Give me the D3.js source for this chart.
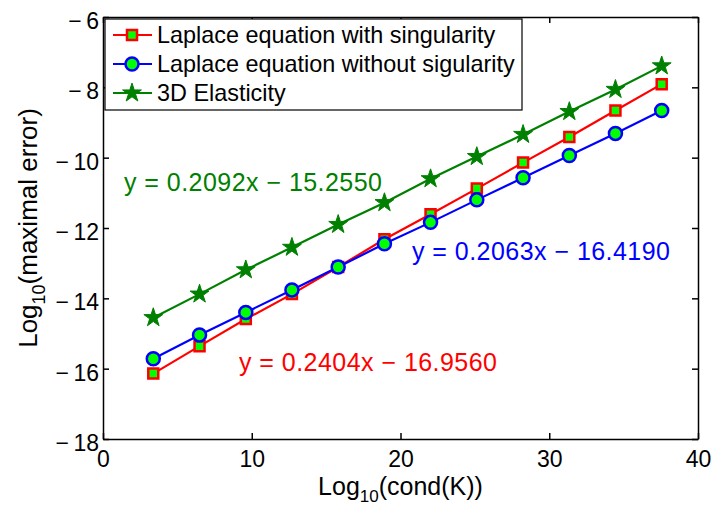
<html>
<head>
<meta charset="utf-8">
<title>Error vs condition number</title>
<style>
    body { margin: 0; background: #fff; }
    svg { font-family: "Liberation Sans", Arial, sans-serif; }
    .axis path, .axis line { stroke: #000; stroke-width: 1.5; }
    .axis text { font-size: 23px; fill: #000; }
</style>
</head>
<body>
<script src="https://d3js.org/d3.v7.min.js"></script>
<script>
// data
var condK = [3.38, 6.49, 9.60, 12.70, 15.81, 18.92, 22.02, 25.13, 28.24, 31.35, 34.45, 37.56];
var withSing = [-16.14, -15.36, -14.59, -13.88, -13.11, -12.32, -11.61, -10.88, -10.14, -9.41, -8.66, -7.91];
var withoutSing = [-15.72, -15.04, -14.40, -13.76, -13.11, -12.45, -11.84, -11.20, -10.57, -9.94, -9.31, -8.66];
var elasticity = [-14.55, -13.88, -13.19, -12.55, -11.90, -11.28, -10.60, -9.97, -9.34, -8.69, -8.06, -7.39];
var xTicks = [0, 10, 20, 30, 40];
var yTicks = [-18, -16, -14, -12, -10, -8, -6];
var seriesNames = ["Laplace equation with singularity", "Laplace equation without sigularity", "3D Elasticity"];
var fitLabels = ["y = 0.2404x \u2212 16.9560", "y = 0.2063x \u2212 16.4190", "y = 0.2092x \u2212 15.2550"];

var margin = {top: 17, right: 16, bottom: 67, left: 103},
    width  = 714 - margin.left - margin.right,
    height = 506 - margin.top - margin.bottom;

var svg = d3.select("body").append("svg")
    .attr("width", 714)
    .attr("height", 506);

var chart = svg.append("g")
    .attr("transform", "translate(" + margin.left + "," + margin.top + ")");

var xScale = d3.scaleLinear().domain([0, 40]).range([0, width]);
var yScale = d3.scaleLinear().domain([-18, -6]).range([height, 0]);

// matlab style minus with a little gap after it
var fmt = function(d){ return d < 0 ? "\u2212\u2009" + Math.abs(d) : d; };

// axes, ticks pointing inwards
chart.append("g").attr("class", "axis")
    .attr("transform", "translate(0," + height + ")")
    .call(d3.axisBottom(xScale).tickValues(xTicks).tickSizeInner(-6).tickSizeOuter(0).tickPadding(12).tickFormat(fmt));
chart.append("g").attr("class", "axis")
    .call(d3.axisTop(xScale).tickValues(xTicks).tickSizeInner(-6).tickSizeOuter(0).tickFormat(""));
chart.append("g").attr("class", "axis")
    .call(d3.axisLeft(yScale).tickValues(yTicks).tickSizeInner(-6).tickSizeOuter(0).tickPadding(4).tickFormat(fmt))
    .selectAll("text").attr("dy", "0.5em");
chart.append("g").attr("class", "axis")
    .attr("transform", "translate(" + width + ",0)")
    .call(d3.axisRight(yScale).tickValues(yTicks).tickSizeInner(-6).tickSizeOuter(0).tickFormat(""));

chart.selectAll(".axis .domain").attr("fill", "none");

var series = [
    {name: seriesNames[0], values: withSing, color: "#ff0000", marker: "square"},
    {name: seriesNames[1], values: withoutSing, color: "#0000ff", marker: "circle"},
    {name: seriesNames[2], values: elasticity, color: "#008000", marker: "star"}
];

var line = d3.line()
    .x(function(d){ return xScale(d[0]); })
    .y(function(d){ return yScale(d[1]); });

function drawMarker(g, s) {
    if (s.marker == "square") {
        g.append("path").attr("d", d3.symbol(d3.symbolSquare, 100)())
            .attr("fill", "#00ff00").attr("stroke", s.color).attr("stroke-width", 2.5);
    } else if (s.marker == "circle") {
        g.append("circle").attr("r", 6.5)
            .attr("fill", "#00ff00").attr("stroke", s.color).attr("stroke-width", 2.5);
    } else {
        g.append("path").attr("d", d3.symbol(d3.symbolStar, 110)())
            .attr("fill", s.color).attr("stroke", s.color).attr("stroke-width", 1);
    }
}

series.forEach(function(s){
    var pts = condK.map(function(x, i){ return [x, s.values[i]]; });
    chart.append("path")
        .datum(pts)
        .attr("d", line)
        .attr("fill", "none")
        .attr("stroke", s.color)
        .attr("stroke-width", 2.2);
    chart.selectAll(null)
        .data(pts)
        .enter()
        .append("g")
        .attr("transform", function(d){ return "translate(" + xScale(d[0]) + "," + yScale(d[1]) + ")"; })
        .each(function(){ drawMarker(d3.select(this), s); });
});

// fitted line labels
svg.append("text").attr("x", 239).attr("y", 371).attr("fill", "#ff0000")
    .style("font-size", "25px").attr("textLength", 258).text(fitLabels[0]);
svg.append("text").attr("x", 412).attr("y", 260).attr("fill", "#0000ff")
    .style("font-size", "25px").attr("textLength", 258).text(fitLabels[1]);
svg.append("text").attr("x", 124).attr("y", 191).attr("fill", "#008000")
    .style("font-size", "25px").attr("textLength", 258).text(fitLabels[2]);

// legend
var legend = svg.append("g");
legend.append("rect")
    .attr("x", 105).attr("y", 19).attr("width", 417).attr("height", 91)
    .attr("fill", "#fff").attr("stroke", "#000").attr("stroke-width", 1.2);
series.forEach(function(s, i){
    var yy = 35 + i * 29;
    legend.append("line")
        .attr("x1", 113).attr("x2", 152).attr("y1", yy).attr("y2", yy)
        .attr("stroke", s.color).attr("stroke-width", 2.2);
    drawMarker(legend.append("g").attr("transform", "translate(132," + yy + ")"), s);
    legend.append("text")
        .attr("x", 157).attr("y", yy + 8)
        .style("font-size", "23.4px")
        .text(s.name);
});

// axis labels
var xl = svg.append("text")
    .attr("x", margin.left + width / 2).attr("y", 495)
    .attr("text-anchor", "middle")
    .style("font-size", "25px");
xl.append("tspan").text("Log");
xl.append("tspan").attr("dy", 7).style("font-size", "17px").text("10");
xl.append("tspan").attr("dy", -7).text("(cond(K))");

var yl = svg.append("text")
    .attr("transform", "translate(37," + (margin.top + height / 2) + ") rotate(-90)")
    .attr("text-anchor", "middle")
    .style("font-size", "26px");
yl.append("tspan").text("Log");
yl.append("tspan").attr("dy", 8).style("font-size", "18px").text("10");
yl.append("tspan").attr("dy", -8).text("(maximal error)");
</script>
</body>
</html>
